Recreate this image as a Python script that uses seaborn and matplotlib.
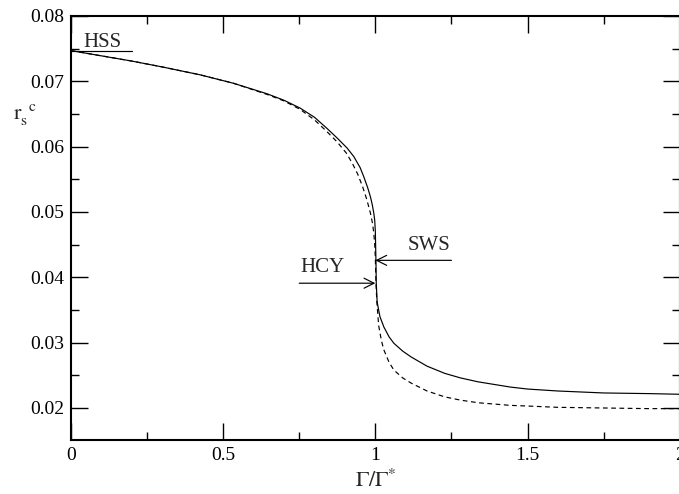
import matplotlib
matplotlib.use("Agg")
import matplotlib.pyplot as plt
import seaborn as sns
import pandas as pd
from matplotlib.ticker import MultipleLocator

sns.set_theme(style="ticks")
plt.rcParams['font.family'] = ['Liberation Serif', 'DejaVu Serif']
plt.rcParams['mathtext.fontset'] = 'stix'

# Solid curve (SWS)
x_solid = [0.0, 0.1, 0.2, 0.3, 0.424, 0.534, 0.644, 0.7, 0.753, 0.8, 0.841, 0.875,
           0.907, 0.929, 0.95, 0.962, 0.975, 0.984, 0.99, 0.995, 0.998, 1.0,
           1.002, 1.003, 1.006, 1.015, 1.028, 1.045, 1.061, 1.09, 1.118, 1.17, 1.228,
           1.28, 1.338, 1.444, 1.5, 1.6, 1.75, 1.9, 2.0]
y_solid = [0.0747, 0.0739, 0.0731, 0.0722, 0.0710, 0.0697, 0.0681, 0.0671, 0.0659,
           0.0645, 0.0628, 0.0613, 0.0598, 0.0585, 0.0568, 0.0554, 0.0537, 0.0523,
           0.0511, 0.0498, 0.0487, 0.0470, 0.0425, 0.0391,
           0.0362, 0.0340, 0.0324, 0.0309, 0.0299, 0.0287, 0.0278, 0.0264, 0.0253,
           0.0246, 0.0240, 0.0232, 0.0229, 0.0226, 0.0223, 0.0222, 0.0221]

# Dashed curve (HCY)
x_dash = [0.0, 0.1, 0.2, 0.3, 0.424, 0.534, 0.644, 0.7, 0.753, 0.8, 0.841, 0.875,
          0.905, 0.925, 0.942, 0.958, 0.972, 0.984, 0.991, 0.995, 0.998,
          1.0, 1.002, 1.005, 1.011, 1.02, 1.028, 1.045, 1.061, 1.09, 1.118, 1.17,
          1.228, 1.28, 1.338, 1.444, 1.5, 1.6, 1.75, 1.9, 2.0]
y_dash = [0.0747, 0.0739, 0.0731, 0.0722, 0.0710, 0.0697, 0.0680, 0.0670, 0.0657,
          0.0641, 0.0623, 0.0607, 0.0590, 0.0574, 0.0558,
          0.0539, 0.0519, 0.0498, 0.0482, 0.0467, 0.0450, 0.0430, 0.0392, 0.0362,
          0.0326, 0.0303, 0.0289, 0.0270, 0.0258, 0.0246, 0.0238, 0.0226, 0.0217,
          0.0212, 0.0208, 0.0204, 0.0203, 0.0201, 0.0200, 0.0199, 0.0199]

x_ticks = [0, 0.5, 1, 1.5, 2]
x_tick_labels = ["0", "0.5", "1", "1.5", "2"]
y_ticks = [0.02, 0.03, 0.04, 0.05, 0.06, 0.07, 0.08]
y_tick_labels = ["0.02", "0.03", "0.04", "0.05", "0.06", "0.07", "0.08"]

df_s = pd.DataFrame({"x": x_solid, "y": y_solid})
df_d = pd.DataFrame({"x": x_dash, "y": y_dash})

fig = plt.figure(figsize=(6.79, 4.94), dpi=100)
ax = fig.add_axes([71/679, 1 - 440/494, 1.001 - 71/679, (440 - 16)/494])

sns.lineplot(data=df_s, x="x", y="y", ax=ax, color="black", lw=0.85, sort=False)
sns.lineplot(data=df_d, x="x", y="y", ax=ax, color="black", lw=0.85, sort=False,
             linestyle=(0, (4, 3)))

ax.set_xlim(0, 2)
ax.set_ylim(0.0151, 0.08)
ax.set_xticks(x_ticks)
ax.set_xticklabels(x_tick_labels)
ax.set_yticks(y_ticks)
ax.set_yticklabels(y_tick_labels)
ax.xaxis.set_minor_locator(MultipleLocator(0.25))
ax.yaxis.set_minor_locator(MultipleLocator(0.005))
ax.tick_params(which="both", direction="in", top=True, right=True, color="black",
               labelsize=14, labelcolor="black")
ax.tick_params(which="major", length=12, width=1.0, pad=5)
ax.tick_params(which="minor", length=6, width=1.0)
for s in ax.spines.values():
    s.set_visible(True)
    s.set_linewidth(1.5)
    s.set_color("black")

ax.set_xlabel(r"$\mathrm{\Gamma/\Gamma^{*}}$", fontsize=16, labelpad=4)
ax.set_ylabel("")
fig.text(13/679, 1 - 114/494, r"$\mathrm{r_{s}^{\ \ c}}$", fontsize=16,
         ha="left", va="center")

# Annotations
ax.plot([0.0, 0.2], [0.0747, 0.0747], color="black", lw=0.85)
ax.text(0.04, 0.0760, "HSS", fontsize=15, ha="left", va="center")
ax.annotate("", xy=(1.0, 0.0391), xytext=(0.75, 0.0391),
            arrowprops=dict(arrowstyle="->", color="black", lw=0.85,
                            mutation_scale=18, shrinkA=0, shrinkB=0))
ax.text(0.755, 0.0415, "HCY", fontsize=15, ha="left", va="center")
ax.annotate("", xy=(1.0, 0.0426), xytext=(1.25, 0.0426),
            arrowprops=dict(arrowstyle="->", color="black", lw=0.85,
                            mutation_scale=18, shrinkA=0, shrinkB=0))
ax.text(1.105, 0.0448, "SWS", fontsize=15, ha="left", va="center")

fig.savefig("out.png", dpi=100)
